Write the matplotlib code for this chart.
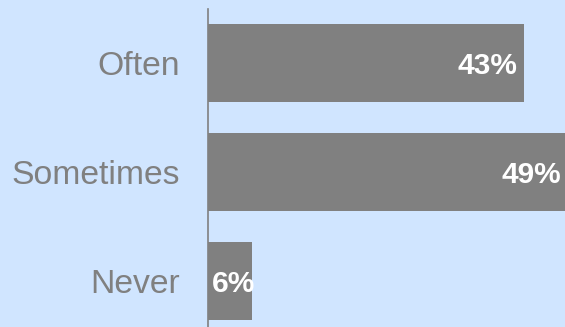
import matplotlib
matplotlib.use("Agg")
import matplotlib.pyplot as plt

categories = ["Never", "Sometimes", "Often"]
values = [6, 49, 43]
labels = ["6%", "49%", "43%"]

bg = "#D0E5FF"
grey = "#808080"

plt.rcParams['font.family'] = ['Liberation Sans', 'DejaVu Sans']

fig = plt.figure(figsize=(5.65, 3.27), dpi=100, facecolor=bg)
ax = fig.add_axes([208 / 565, 0, 357 / 565, 1 - 9 / 327])
ax.set_facecolor(bg)

pos = list(range(len(categories)))
ax.barh(pos, values, height=0.715, color=grey)
ax.set_xlim(0, 48.57)
ax.set_ylim(-0.42, 2.495)

ax.set_yticks(pos)
ax.set_yticklabels(categories, fontsize=24.3, color=grey)
ax.tick_params(axis='y', length=0, pad=20)
ax.set_xticks([])

for s in ["top", "right", "bottom"]:
    ax.spines[s].set_visible(False)
ax.spines["left"].set_color(grey)
ax.spines["left"].set_linewidth(1.2)

for p, v, t in zip(pos, values, labels):
    if v < 10:
        ax.annotate(t, (0, p), xytext=(3, -2), textcoords="offset points",
                    ha="left", va="center", color="white", fontsize=21.5,
                    fontweight="bold", annotation_clip=False)
    else:
        ax.annotate(t, (v, p), xytext=(-5, -2), textcoords="offset points",
                    ha="right", va="center", color="white", fontsize=21.5,
                    fontweight="bold", annotation_clip=False)

fig.savefig("out.png", dpi=100, facecolor=bg)
